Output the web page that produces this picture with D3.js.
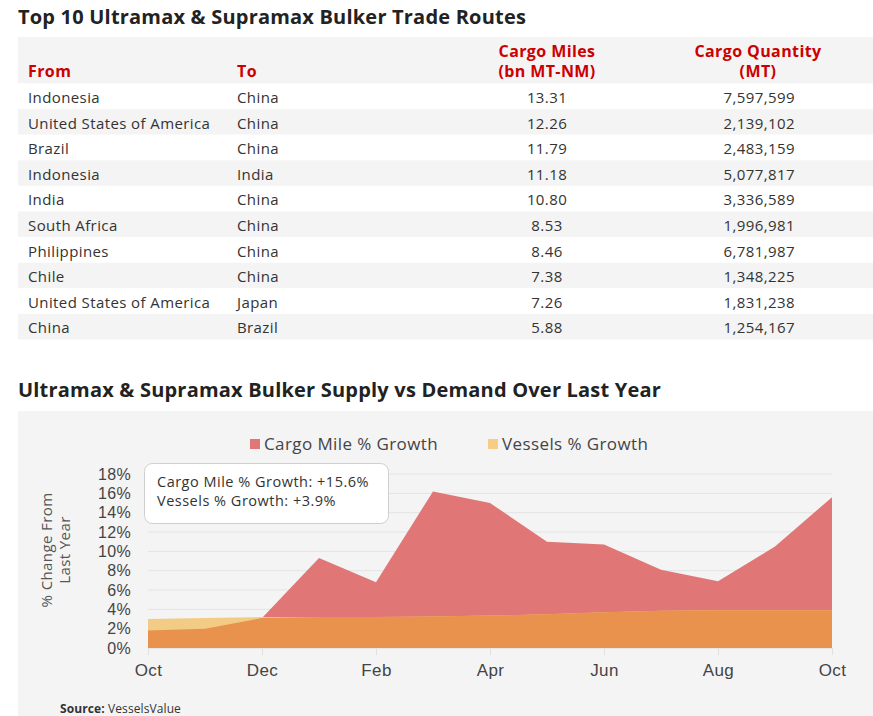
<!DOCTYPE html>
<html>
<head>
<meta charset="utf-8">
<script src="https://cdn.jsdelivr.net/npm/d3@7"></script>
<style>
  body { margin: 0; background: #fff; }
  svg { display: block; font-family: "Open Sans", "DejaVu Sans", sans-serif; }
</style>
</head>
<body>
<svg id="vis" width="873" height="716"></svg>
<script>
// table data
var fromCountries = ["Indonesia", "United States of America", "Brazil", "Indonesia", "India",
                     "South Africa", "Philippines", "Chile", "United States of America", "China"];
var toCountries = ["China", "China", "China", "India", "China", "China", "China", "China", "Japan", "Brazil"];
var cargoMiles = [13.31, 12.26, 11.79, 11.18, 10.80, 8.53, 8.46, 7.38, 7.26, 5.88];
var cargoQuantity = [7597599, 2139102, 2483159, 5077817, 3336589, 1996981, 6781987, 1348225, 1831238, 1254167];

// chart data
var months = ["Oct", "Nov", "Dec", "Jan", "Feb", "Mar", "Apr", "May", "Jun", "Jul", "Aug", "Sep", "Oct"];
var cargoGrowth = [1.8, 2.0, 3.1, 9.3, 6.8, 16.2, 15.0, 11.0, 10.7, 8.1, 6.9, 10.5, 15.6];
var vesselGrowth = [3.0, 3.1, 3.2, 3.2, 3.2, 3.25, 3.35, 3.5, 3.7, 3.85, 3.9, 3.9, 3.9];
var yTicks = [0, 2, 4, 6, 8, 10, 12, 14, 16, 18];
var seriesNames = ["Cargo Mile % Growth", "Vessels % Growth"];

var svg = d3.select("#vis");
var red = "#cc0000", txt = "#333";

// ---------- table ----------
svg.append("text").attr("x", 18).attr("y", 24)
  .style("font-size", "20px").style("font-weight", "bold").style("letter-spacing", "0.2px").attr("fill", "#222")
  .text("Top 10 Ultramax & Supramax Bulker Trade Routes");

var rowH = 25.6, headTop = 37, headBot = 83.5;
svg.append("rect").attr("x", 18).attr("y", headTop).attr("width", 855).attr("height", headBot - headTop)
  .attr("fill", "#f4f4f4");

var cols = { from: 28, to: 237, miles: 547, qty: 795, qtyHead: 758 };
var head = svg.append("g").style("font-size", "16px").style("font-weight", "bold")
  .style("letter-spacing", "0.4px").attr("fill", red);
head.append("text").attr("x", cols.from).attr("y", 77).text("From");
head.append("text").attr("x", cols.to).attr("y", 77).text("To");
head.append("text").attr("x", cols.miles).attr("y", 57).attr("text-anchor", "middle").text("Cargo Miles");
head.append("text").attr("x", cols.miles).attr("y", 77).attr("text-anchor", "middle").text("(bn MT-NM)");
head.append("text").attr("x", cols.qtyHead).attr("y", 57).attr("text-anchor", "middle").text("Cargo Quantity");
head.append("text").attr("x", cols.qtyHead).attr("y", 77).attr("text-anchor", "middle").text("(MT)");

var fmt = d3.format(",d");
var rows = svg.append("g").selectAll("g").data(fromCountries).enter().append("g")
  .attr("transform", function(d, i) { return "translate(0," + (headBot + i * rowH) + ")"; });
rows.append("rect").attr("x", 18).attr("width", 855).attr("height", rowH)
  .attr("fill", function(d, i) { return i % 2 ? "#f4f4f4" : "#fff"; });
var rowText = rows.append("g").style("font-size", "15px").style("letter-spacing", "0.4px").attr("fill", txt);
rowText.append("text").attr("x", cols.from).attr("y", 19.5).text(function(d) { return d; });
rowText.append("text").attr("x", cols.to).attr("y", 19.5).text(function(d, i) { return toCountries[i]; });
rowText.append("text").attr("x", cols.miles).attr("y", 19.5).attr("text-anchor", "middle")
  .text(function(d, i) { return cargoMiles[i].toFixed(2); });
rowText.append("text").attr("x", cols.qty).attr("y", 19.5).attr("text-anchor", "end")
  .text(function(d, i) { return fmt(cargoQuantity[i]); });

// ---------- chart ----------
svg.append("text").attr("x", 18).attr("y", 397)
  .style("font-size", "20px").style("font-weight", "bold").style("letter-spacing", "0.2px").attr("fill", "#222")
  .text("Ultramax & Supramax Bulker Supply vs Demand Over Last Year");

svg.append("rect").attr("x", 18).attr("y", 411).attr("width", 855).attr("height", 305).attr("fill", "#f4f4f4");

var x = d3.scaleLinear().domain([0, months.length - 1]).range([148, 832]);
var y = d3.scaleLinear().domain([0, 18]).range([648, 474]);

// grid
svg.append("g").selectAll("line").data(yTicks.slice(1)).enter().append("line")
  .attr("x1", x(0)).attr("x2", x(12))
  .attr("y1", function(d) { return y(d); }).attr("y2", function(d) { return y(d); })
  .attr("stroke", "#e3e3e3").attr("stroke-width", 1);

var idx = d3.range(months.length);
var area = function(vals) {
  return d3.area().x(function(i) { return x(i); }).y0(y(0)).y1(function(i) { return y(vals[i]); });
};
var overlap = idx.map(function(i) { return Math.min(cargoGrowth[i], vesselGrowth[i]); });

var plot = svg.append("g");
plot.append("path").datum(idx).attr("d", area(cargoGrowth)).attr("fill", "#e07676");
plot.append("path").datum(idx).attr("d", area(vesselGrowth)).attr("fill", "#f2cb84");
plot.append("path").datum(idx).attr("d", area(overlap)).attr("fill", "#e8924d");

// y axis labels
var yAxis = svg.append("g").attr("transform", "translate(131,0)")
  .call(d3.axisLeft(y).tickValues(yTicks).tickSize(0).tickPadding(0).tickFormat(function(d) { return d + "%"; }));
yAxis.select(".domain").remove();
yAxis.selectAll("text").style("font-size", "16px").style("font-family", "inherit")
  .style("letter-spacing", "0.3px").attr("fill", "#444");

// x axis
var xAxis = svg.append("g").attr("transform", "translate(0," + y(0) + ")")
  .call(d3.axisBottom(x).tickValues(d3.range(0, months.length, 2)).tickSize(7).tickPadding(9)
    .tickFormat(function(d) { return months[d]; }));
xAxis.select(".domain").attr("stroke", "#e6e6e6");
xAxis.selectAll(".tick line").attr("stroke", "#e0e0e0");
xAxis.selectAll("text").style("font-size", "17px").style("font-family", "inherit")
  .style("letter-spacing", "0.4px").attr("fill", "#444");

// y title
var yt = svg.append("text").attr("transform", "translate(0,550) rotate(-90)")
  .attr("text-anchor", "middle").style("font-size", "15px").style("letter-spacing", "0.4px").attr("fill", "#555");
yt.append("tspan").attr("x", 0).attr("y", 52).text("% Change From");
yt.append("tspan").attr("x", 0).attr("y", 70).text("Last Year");

// legend
var legColors = ["#e07676", "#f5cd84"];
var legX = [250, 488];
var leg = svg.append("g").selectAll("g").data(seriesNames).enter().append("g")
  .attr("transform", function(d, i) { return "translate(" + legX[i] + ",0)"; });
leg.append("rect").attr("y", 439).attr("width", 10).attr("height", 10)
  .attr("fill", function(d, i) { return legColors[i]; });
leg.append("text").attr("x", 14).attr("y", 450).style("font-size", "17px").style("letter-spacing", "0.4px")
  .attr("fill", "#444").text(function(d) { return d; });

// tooltip for last point
var last = months.length - 1;
var tip = svg.append("g");
tip.append("rect").attr("x", 144.5).attr("y", 463.5).attr("width", 244).attr("height", 60)
  .attr("rx", 8).attr("fill", "#fff").attr("stroke", "#cfcfcf");
var tt = tip.append("text").style("font-size", "14.5px").style("letter-spacing", "0.5px").attr("fill", "#333");
tt.append("tspan").attr("x", 157).attr("y", 487)
  .text(seriesNames[0] + ": +" + cargoGrowth[last].toFixed(1) + "%");
tt.append("tspan").attr("x", 157).attr("y", 506)
  .text(seriesNames[1] + ": +" + vesselGrowth[last].toFixed(1) + "%");

// source
var src = svg.append("text").attr("x", 60).attr("y", 713).style("font-size", "12px")
  .style("letter-spacing", "0.1px").attr("fill", "#333");
src.append("tspan").style("font-weight", "bold").text("Source: ");
src.append("tspan").text("VesselsValue");
</script>
</body>
</html>
